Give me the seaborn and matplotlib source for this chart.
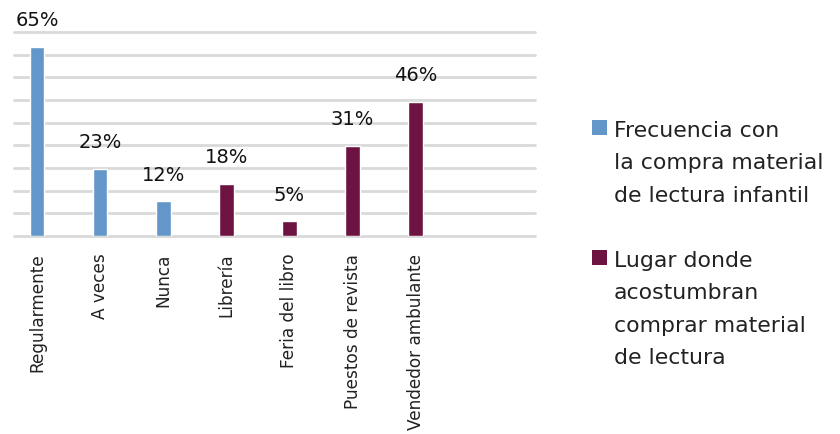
import numpy as np
import pandas as pd
import matplotlib
matplotlib.use("Agg")
import matplotlib.pyplot as plt
import seaborn as sns
from matplotlib.patches import Patch

categories = ["Regularmente", "A veces", "Nunca", "Librería", "Feria del libro",
              "Puestos de revista", "Vendedor ambulante"]
values = [65, 23, 12, 18, 5, 31, 46]
group_names = ["Frecuencia con\nla compra material\nde lectura infantil",
               "Lugar donde\nacostumbran\ncomprar material\nde lectura"]
groups = [group_names[0]] * 3 + [group_names[1]] * 4
colors = ["#6497C9", "#6D1342"]

df = pd.DataFrame({"cat": categories, "val": values, "grp": groups})

sns.set_theme(style="white")
plt.rcParams["font.family"] = ["DejaVu Sans"]

fig = plt.figure(figsize=(8.4, 4.35), dpi=100)
ax = fig.add_axes([14/840, 1-237/435, (535-14)/840, (237-33)/435])

sns.barplot(data=df, x="cat", y="val", hue="grp", hue_order=group_names,
            palette=colors, dodge=False, width=0.23, ax=ax, legend=False,
            saturation=1)

ax.set_ylim(0, 70)
ax.set_xlim(-0.365, 7.89)
ax.set_yticks(np.linspace(0, 70, 10))
ax.set_yticklabels([])
ax.yaxis.grid(True, color="#D9D9D9", linewidth=2)
for gl in ax.get_ygridlines():
    gl.set_clip_on(False)
ax.set_axisbelow(True)
for s in ax.spines.values():
    s.set_visible(False)
ax.set_xlabel("")
ax.set_ylabel("")
ax.tick_params(axis="both", length=0)
ax.tick_params(axis="x", pad=12)
ax.set_xticks(range(len(categories)))
ax.set_xticklabels(categories, rotation=90, fontsize=12.2, color="#222222",
                   va="top", ha="center")

for i, v in enumerate(values):
    ax.text(i, v + 6, f"{v}%", ha="center", va="bottom", fontsize=14,
            color="#111111", clip_on=False)

handles = [Patch(facecolor=c, edgecolor="none") for c in colors]
leg = fig.legend(handles, group_names, loc="upper left",
                 bbox_to_anchor=(583/840, 1-112/435), frameon=False,
                 fontsize=15.8, handlelength=0.7, handleheight=0.7,
                 handletextpad=0.3, labelspacing=2.05, borderaxespad=0)
for col in leg._legend_handle_box.get_children():
    for hp in col.get_children():
        hp.align = "top"
for t in leg.get_texts():
    t.set_color("#222222")
    t.set_linespacing(1.78)

fig.savefig("out.png", dpi=100)
